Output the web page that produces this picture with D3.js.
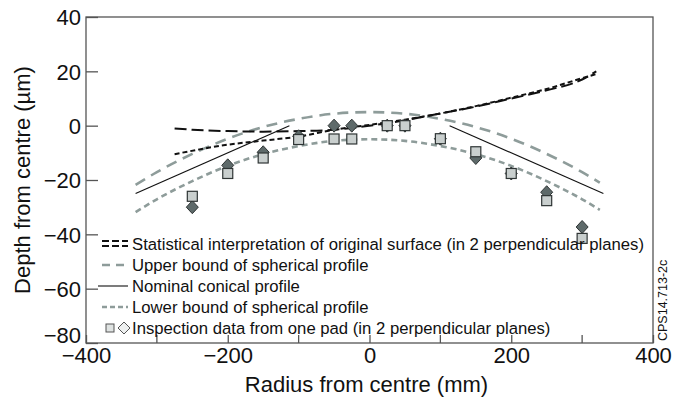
<!DOCTYPE html>
<html lang="en">

<head>
    <meta charset="UTF-8">
    <title>Depth from centre</title>
    <script src="https://cdn.jsdelivr.net/npm/d3@7"></script>
    <style>
        body {
            margin: 0;
            padding: 0;
            background-color: white;
        }

        text {
            font-family: "Liberation Sans", Arial, Helvetica, sans-serif;
            fill: #111;
        }
    </style>
</head>

<body>
    <div id="chart"></div>
    <script>

        // data (mm, µm)
        const statLongDash = [[-275, -1], [-250, -1.5], [-200, -2], [-150, -2.2], [-100, -2], [-50, -1.5], [0, 0], [50, 2], [100, 4.5], [150, 7], [200, 10], [250, 13], [300, 17], [320, 20]];
        const statShortDash = [[-275, -10.5], [-200, -7], [-150, -5.5], [-100, -4], [-50, -1.5], [0, 0.3], [50, 2.2], [100, 4.5], [150, 7.2], [200, 10.3], [250, 13.5], [300, 17.5], [320, 19]];
        const upperBound = [[-330, -21.8], [-300, -17.1], [-250, -10.4], [-200, -4.8], [-150, -0.5], [-100, 2.5], [-50, 4.4], [0, 5], [50, 4.4], [100, 2.5], [150, -0.5], [200, -4.8], [250, -10.4], [300, -17.1], [325, -21]];
        const lowerBound = [[-330, -31.8], [-300, -27.1], [-250, -20.4], [-200, -14.8], [-150, -10.5], [-100, -7.5], [-50, -5.6], [0, -5], [50, -5.6], [100, -7.5], [150, -10.5], [200, -14.8], [250, -20.4], [300, -27.1], [325, -31]];
        const conicalLeft = [[-330, -25], [-113, 0]];
        const conicalRight = [[113, 0], [330, -25]];
        const squares = [[-250, -26], [-200, -17.6], [-150, -11.9], [-100, -5.1], [-50, -4.9], [-25, -4.9], [25, 0], [50, 0], [100, -4.8], [150, -9.6], [200, -17.6], [250, -27.6], [300, -41.5]];
        const diamonds = [[-250, -30], [-200, -14.6], [-150, -9.8], [-100, -3.9], [-50, 0], [-25, 0], [25, 0], [50, 0], [100, -4.8], [150, -11.9], [200, -17.6], [250, -24.5], [300, -37.3]];

        const xTicks = [-400, -200, 0, 200, 400];
        const xMinorTicks = [-300, -100, 100, 300];
        const yTicks = [40, 20, 0, -20, -40, -60, -80];

        const legendItems = [
            "Statistical interpretation of original surface (in 2 perpendicular planes)",
            "Upper bound of spherical profile",
            "Nominal conical profile",
            "Lower bound of spherical profile",
            "Inspection data from one pad (in 2 perpendicular planes)"
        ];

        const w = 673;
        const h = 399;
        const margin = { top: 17, right: 20, bottom: 56, left: 86 };
        const grey = "#8e9c9a";

        const svg = d3.select("#chart")
            .append("svg")
            .attr("width", w)
            .attr("height", h);

        const x = d3.scaleLinear().domain([-400, 400]).range([margin.left, w - margin.right]);
        const y = d3.scaleLinear().domain([-80, 40]).range([h - margin.bottom, margin.top]);

        const minus = d => d < 0 ? "\u2212" + Math.abs(d) : d;

        // frame
        svg.append("rect")
            .attr("x", x(-400))
            .attr("y", y(40))
            .attr("width", x(400) - x(-400))
            .attr("height", y(-80) - y(40))
            .attr("fill", "none")
            .attr("stroke", "#555")
            .attr("stroke-width", 1.3);

        // ticks
        svg.append("g")
            .attr("transform", `translate(${x(-400)},0)`)
            .call(d3.axisLeft(y).tickValues(yTicks).tickSize(-12).tickFormat(minus))
            .call(g => g.select(".domain").remove())
            .call(g => g.selectAll("line").attr("stroke", "#555").attr("stroke-width", 1.3))
            .call(g => g.selectAll("text").style("font-size", "22px").attr("font-family", null).attr("x", -5)
                .attr("dy", d => d === -80 ? "-0.02em" : "0.35em"));

        svg.append("g")
            .attr("transform", `translate(0,${y(-80)})`)
            .call(d3.axisBottom(x).tickValues(xTicks).tickSize(-8).tickFormat(minus))
            .call(g => g.select(".domain").remove())
            .call(g => g.selectAll("line").attr("stroke", "#555").attr("stroke-width", 1.3))
            .call(g => g.selectAll("text").style("font-size", "22px").attr("font-family", null).attr("y", 4));

        svg.append("g")
            .selectAll("line")
            .data(xMinorTicks)
            .enter()
            .append("line")
            .attr("x1", d => x(d))
            .attr("x2", d => x(d))
            .attr("y1", y(-80))
            .attr("y2", y(-80) - 8)
            .attr("stroke", "#555")
            .attr("stroke-width", 1.3);

        // axis titles
        svg.append("text")
            .attr("x", x(0) - 3)
            .attr("y", 392)
            .attr("text-anchor", "middle")
            .style("font-size", "22px")
            .text("Radius from centre (mm)");

        svg.append("text")
            .attr("transform", `translate(30, ${y(-20)}) rotate(-90)`)
            .attr("text-anchor", "middle")
            .style("font-size", "22px")
            .text("Depth from centre (\u00b5m)");

        svg.append("text")
            .attr("transform", `translate(667, 341) rotate(-90)`)
            .style("font-size", "12.5px")
            .text("CPS14.713-2c");

        // curves
        const line = d3.line().x(d => x(d[0])).y(d => y(d[1]));
        const smooth = d3.line().x(d => x(d[0])).y(d => y(d[1])).curve(d3.curveMonotoneX);

        const series = [
            { data: upperBound, gen: smooth, stroke: grey, width: 2.6, dash: "11,7" },
            { data: lowerBound, gen: smooth, stroke: grey, width: 2.6, dash: "6,4" },
            { data: conicalLeft, gen: line, stroke: "#111", width: 1.1, dash: null },
            { data: conicalRight, gen: line, stroke: "#111", width: 1.1, dash: null },
            { data: statLongDash, gen: smooth, stroke: "#111", width: 2, dash: "12,5" },
            { data: statShortDash, gen: smooth, stroke: "#111", width: 2, dash: "5,3" }
        ];

        svg.selectAll(".curve")
            .data(series)
            .enter()
            .append("path")
            .attr("class", "curve")
            .attr("d", d => d.gen(d.data))
            .attr("fill", "none")
            .attr("stroke", d => d.stroke)
            .attr("stroke-width", d => d.width)
            .attr("stroke-dasharray", d => d.dash);

        // markers: diamonds below, squares on top
        svg.selectAll(".dia")
            .data(diamonds)
            .enter()
            .append("path")
            .attr("class", "dia")
            .attr("d", d => `M${x(d[0])},${y(d[1]) - 6.5}l6,6.5l-6,6.5l-6,-6.5z`)
            .attr("fill", "#5e6a6a")
            .attr("stroke", "#2f3535")
            .attr("stroke-width", 1);

        svg.selectAll(".sq")
            .data(squares)
            .enter()
            .append("rect")
            .attr("class", "sq")
            .attr("x", d => x(d[0]) - 5)
            .attr("y", d => y(d[1]) - 5)
            .attr("width", 10)
            .attr("height", 10)
            .attr("fill", "#c9cfce")
            .attr("stroke", "#2f3535")
            .attr("stroke-width", 1.2);

        // legend
        const rowY = [244, 265, 286, 307, 328];
        const legend = svg.append("g").attr("id", "legend");

        legend.selectAll("text")
            .data(legendItems)
            .enter()
            .append("text")
            .attr("x", 132)
            .attr("y", (d, i) => rowY[i] + 6)
            .style("font-size", "16.7px")
            .text(d => d);

        const lx1 = 102, lx2 = 128;
        legend.append("line").attr("x1", lx1).attr("x2", lx2).attr("y1", rowY[0] - 3).attr("y2", rowY[0] - 3)
            .attr("stroke", "#111").attr("stroke-width", 1.8).attr("stroke-dasharray", "7,3");
        legend.append("line").attr("x1", lx1).attr("x2", lx2).attr("y1", rowY[0] + 2).attr("y2", rowY[0] + 2)
            .attr("stroke", "#111").attr("stroke-width", 1.8).attr("stroke-dasharray", "7,3");
        legend.append("line").attr("x1", lx1).attr("x2", lx2).attr("y1", rowY[1]).attr("y2", rowY[1])
            .attr("stroke", grey).attr("stroke-width", 2.4).attr("stroke-dasharray", "8,6");
        legend.append("line").attr("x1", 98).attr("x2", lx2).attr("y1", rowY[2]).attr("y2", rowY[2])
            .attr("stroke", "#111").attr("stroke-width", 1.1);
        legend.append("line").attr("x1", lx1).attr("x2", lx2).attr("y1", rowY[3]).attr("y2", rowY[3])
            .attr("stroke", grey).attr("stroke-width", 2.4).attr("stroke-dasharray", "5,3");
        legend.append("rect").attr("x", 106).attr("y", rowY[4] - 4).attr("width", 8).attr("height", 8)
            .attr("fill", "#dfe3e2").attr("stroke", "#555").attr("stroke-width", 1);
        legend.append("path").attr("d", `M124,${rowY[4] - 6}l6,6l-6,6l-6,-6z`)
            .attr("fill", "#eef0f0").attr("stroke", "#555").attr("stroke-width", 1);

    </script>
</body>

</html>
